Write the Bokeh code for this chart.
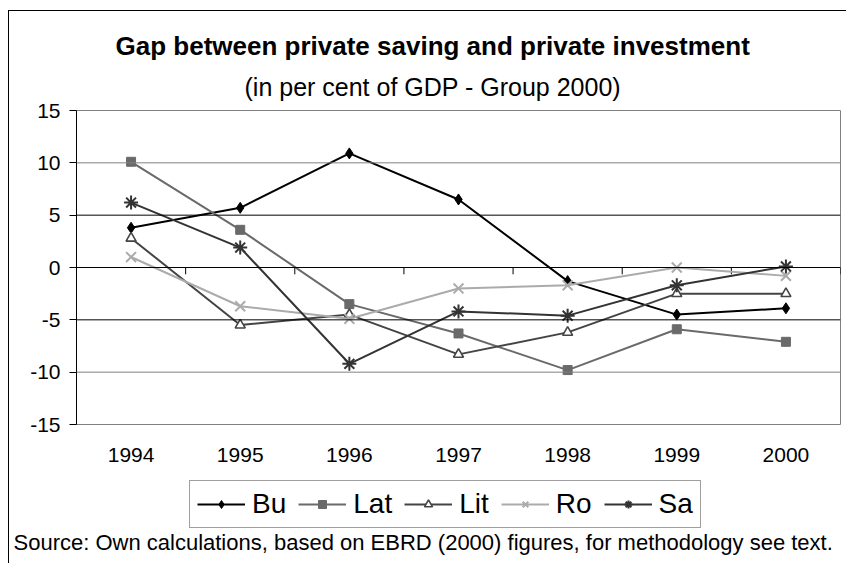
from bokeh.plotting import figure
from bokeh.layouts import column
from bokeh.models import (Range1d, FixedTicker, Legend, LegendItem, Span, Title)
from bokeh.embed import file_html
from bokeh.resources import INLINE

# Years shown on the category axis
years = ["1994", "1995", "1996", "1997", "1998", "1999", "2000"]

# Private saving minus private investment, % of GDP
bu = [3.8, 5.7, 10.9, 6.5, -1.3, -4.5, -3.9]
lat = [10.1, 3.6, -3.5, -6.3, -9.8, -5.9, -7.1]
lit = [2.8, -5.5, -4.5, -8.3, -6.2, -2.5, -2.5]
ro = [1.0, -3.7, -4.9, -2.0, -1.7, 0.0, -0.8]
sa = [6.2, 1.9, -9.2, -4.2, -4.6, -1.7, 0.1]

y_ticks = [-15, -10, -5, 0, 5, 10, 15]
y_tick_labels = ["-15", "-10", "-5", "0", "5", "10", "15"]

FONT = "Liberation Sans"
W = 846
MAIN_H, LEG_H, SRC_H = 474, 55, 34

n = len(years)
xc = [i + 0.5 for i in range(n)]          # category centres
xb = list(range(n + 1))                   # category boundaries

series = [
    ("Bu", bu, "#000000", dict(marker="diamond", size=11, fill_color="#000000", line_color="#000000")),
    ("Lat", lat, "#6a6a6a", dict(marker="square", size=9, fill_color="#6a6a6a", line_color="#6a6a6a")),
    ("Lit", lit, "#444444", dict(marker="triangle", size=10, fill_color="white", line_color="#444444", line_width=1.6)),
    ("Ro", ro, "#ababab", dict(marker="x", size=14, line_color="#ababab", line_width=2)),
    ("Sa", sa, "#333333", dict(marker="asterisk", size=14, line_color="#333333", line_width=2)),
]

# ---- chart ---------------------------------------------------------------
p = figure(width=W, height=MAIN_H, output_backend="svg", toolbar_location=None,
           x_range=Range1d(0, n), y_range=Range1d(-15, 15),
           min_border_left=76, min_border_right=6,
           min_border_top=110, min_border_bottom=50)
p.background_fill_color = "white"
p.border_fill_color = None
p.outline_line_color = "#808080"
p.outline_line_width = 1
p.xgrid.visible = False
p.ygrid.visible = False

# horizontal gridlines
for v in y_ticks:
    if v in (-15, 15, 0):
        continue
    col = "#808080" if abs(v) == 10 else "#000000"
    p.add_layout(Span(location=v, dimension="width", line_color=col, line_width=1))
p.add_layout(Span(location=0, dimension="width", line_color="#000000", line_width=1))

# category separators hanging below the zero line
p.segment(x0=xb, x1=xb, y0=[0] * len(xb), y1=[-0.65] * len(xb),
          line_color="#000000", line_width=1)

yax = p.yaxis[0]
yax.ticker = FixedTicker(ticks=y_ticks)
yax.major_label_overrides = {t: s for t, s in zip(y_ticks, y_tick_labels)}
yax.axis_line_color = "#000000"
yax.major_tick_line_color = "#000000"
yax.major_tick_out = 7
yax.major_tick_in = 0
yax.minor_tick_line_color = None
yax.major_label_text_font = FONT
yax.major_label_text_font_size = "21px"
yax.major_label_text_color = "#000000"
yax.major_label_standoff = 9

xax = p.xaxis[0]
xax.ticker = FixedTicker(ticks=xc)
xax.major_label_overrides = {x: y for x, y in zip(xc, years)}
xax.axis_line_color = None
xax.major_tick_line_color = None
xax.minor_tick_line_color = None
xax.major_tick_out = 6
xax.major_tick_in = 0
xax.major_label_text_font = FONT
xax.major_label_text_font_size = "21px"
xax.major_label_text_color = "#000000"
xax.major_label_standoff = 17

for name, vals, col, mk in series:
    p.line(xc, vals, line_color=col, line_width=2)
    p.scatter(xc, vals, **mk)

# heading: main title outermost, subtitle next to the plot area
p.title.text = "Gap between private saving and private investment"
p.title.align = "left"
p.title.offset = 39
p.title.standoff = 10
p.title.text_font = FONT
p.title.text_font_size = "26px"
p.title.text_font_style = "bold"
p.title.text_color = "#000000"

p.add_layout(Title(text="(in per cent of GDP - Group 2000)",
                   align="left", vertical_align="top", offset=168, standoff=15,
                   text_font=FONT, text_font_size="25px", text_font_style="normal",
                   text_color="#000000"), "above")


def strip(h):
    f = figure(width=W, height=h, output_backend="svg", toolbar_location=None,
               x_range=Range1d(0, 1), y_range=Range1d(0, 1),
               x_axis_type=None, y_axis_type=None,
               min_border=0, min_border_left=0, min_border_right=0,
               min_border_top=0, min_border_bottom=0)
    f.xgrid.visible = False
    f.ygrid.visible = False
    f.outline_line_color = None
    f.background_fill_color = None
    f.border_fill_color = None
    return f


# ---- legend strip ----------------------------------------------------------
leg = strip(LEG_H)
items = []
for name, vals, col, mk in series:
    # undrawn stand-ins that carry each series' style into the legend
    ln = leg.line(x=[0], y=[float("nan")], line_color=col, line_width=2)
    sc = leg.scatter(x=[0], y=[float("nan")], **mk)
    items.append(LegendItem(label=name, renderers=[ln, sc]))

legend = Legend(items=items, orientation="horizontal", location=(113, 1),
                border_line_color="#404040", border_line_width=1,
                background_fill_color="white", background_fill_alpha=1,
                padding=7, spacing=12, margin=0, glyph_width=48, glyph_height=20,
                label_standoff=7, label_text_font=FONT, label_text_font_size="28px",
                label_text_color="#000000")
leg.add_layout(legend)

# ---- source note -----------------------------------------------------------
src = strip(SRC_H)
src.title.text = "Source: Own calculations, based on EBRD (2000) figures, for methodology see text."
src.title.align = "left"
src.title.vertical_align = "bottom"
src.title.offset = -63
src.title.standoff = -3
src.title.text_font = FONT
src.title.text_font_size = "22px"
src.title.text_font_style = "normal"
src.title.text_color = "#000000"

# thin chart border along the top and left edges of the page
page = column(p, leg, src, spacing=0,
              styles={"background": "linear-gradient(#000,#000) 8px 10px / 1px 100% no-repeat, "
                                     "linear-gradient(#000,#000) 8px 10px / 100% 1px no-repeat, #fff"})

open("out.html", "w").write(file_html(page, INLINE))
